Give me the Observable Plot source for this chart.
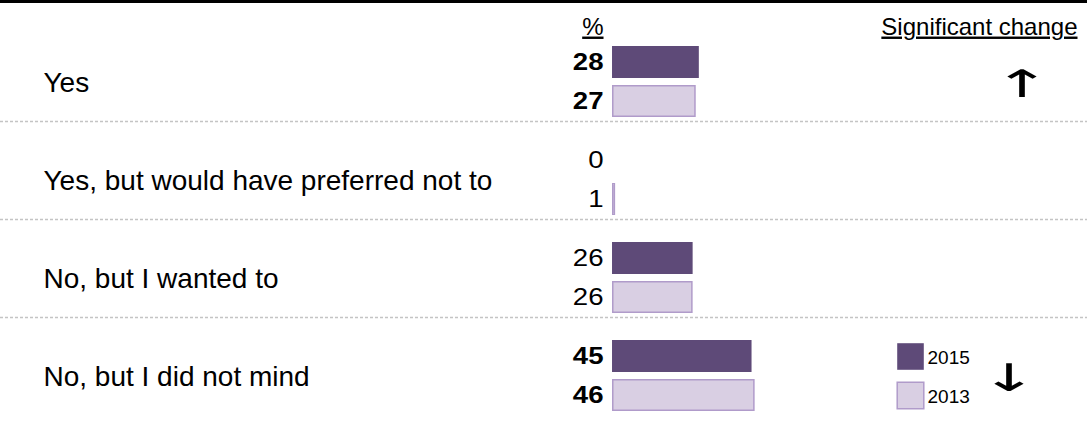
<!DOCTYPE html>
<html>
<head>
<meta charset="utf-8">
<script src="https://cdn.jsdelivr.net/npm/d3@7"></script>
<script src="https://cdn.jsdelivr.net/npm/@observablehq/plot@0.6"></script>
<style>
  body { margin: 0; background: #fff; }
  #chart { width: 1087px; border-top: 3px solid #000; font-family: "Liberation Sans", Arial, sans-serif; }
  #chart svg { display: block; }
</style>
</head>
<body>
<div id="chart"></div>
<script>
const categories = ["Yes", "Yes, but would have preferred not to", "No, but I wanted to", "No, but I did not mind"];
const years = ["2015", "2013"];
const values2015 = [28, 0, 26, 45];
const values2013 = [27, 1, 26, 46];
const significant = [true, false, false, true];
const changeArrows = ["↑", "", "", "↓"];
const headerPct = "%";
const headerChange = "Significant change";

const dark = "#5e4a78";
const lightFill = "#d9cfe3";
const lightStroke = "#b09bca";

const rows = categories.flatMap((cat, i) => [
  {cat, year: "2015", value: values2015[i], bold: significant[i]},
  {cat, year: "2013", value: values2013[i], bold: significant[i]}
]);
const arrows = categories.map((cat, i) => ({cat, arrow: changeArrows[i]})).filter(d => d.arrow);
const legendCat = categories[categories.length - 1];
const legend = years.map(y => ({cat: legendCat, year: y}));

const chart = Plot.plot({
  width: 1087,
  height: 427,
  marginTop: 29,
  marginBottom: 6,
  marginLeft: 0,
  marginRight: 0,
  style: {fontFamily: "'Liberation Sans', Arial, sans-serif", background: "#fff"},
  x: {axis: null, domain: [-197.4, 153.2]},
  y: {axis: null, domain: years, paddingInner: 0.18, paddingOuter: 0, insetTop: 13, insetBottom: 13},
  fy: {axis: null, domain: categories, padding: 0},
  marks: [
    Plot.tickY(categories.slice(0, 3), {fy: d => d, y: () => "2013", dy: 20, stroke: "#c4c4c4", strokeWidth: 1.5, strokeDasharray: "3,2"}),
    Plot.barX(rows.filter(d => d.year === "2015"), {fy: "cat", y: "year", x: "value", fill: dark}),
    Plot.barX(rows.filter(d => d.year === "2013" && d.value > 0), {fy: "cat", y: "year", x: "value", fill: lightFill, stroke: lightStroke, strokeWidth: 1.5, insetTop: 0.75, insetBottom: 0.75, insetRight: 0.75, insetLeft: 0.75}),
    Plot.text(rows.filter(d => d.bold), {fy: "cat", y: "year", x: () => 0, text: d => String(d.value), dx: -9, textAnchor: "end", fontSize: 24, fontWeight: "bold", fill: "#000"}),
    Plot.text(rows.filter(d => !d.bold), {fy: "cat", y: "year", x: () => 0, text: d => String(d.value), dx: -9, textAnchor: "end", fontSize: 24, fill: "#000"}),
    Plot.text(categories, {fy: d => d, text: d => d, frameAnchor: "left", dx: 43, dy: 2, textAnchor: "start", fontSize: 28, fill: "#000"}),
    Plot.text([headerPct], {fy: () => categories[0], x: () => 0, text: d => d, frameAnchor: "top", dx: -9, dy: -15, textAnchor: "end", fontSize: 24, fill: "#000"}),
    Plot.text([headerChange], {fy: () => categories[0], text: d => d, frameAnchor: "top-right", dx: -10, dy: -15, textAnchor: "end", fontSize: 24, fill: "#000"}),
    Plot.text(arrows.slice(0, 1), {fy: "cat", text: "arrow", frameAnchor: "right", dx: -65, dy: 3, textAnchor: "middle", fontSize: 38, fontFamily: "DejaVu Sans", fill: "#000"}),
    Plot.text(arrows.slice(1), {fy: "cat", text: "arrow", frameAnchor: "right", dx: -78, dy: 3, textAnchor: "middle", fontSize: 38, fontFamily: "DejaVu Sans", fill: "#000"}),
    Plot.dot(legend, {fy: "cat", y: "year", frameAnchor: "right", dx: -177, symbol: "square", r: 15, fill: d => d.year === "2015" ? dark : lightFill, stroke: d => d.year === "2015" ? "none" : lightStroke, strokeWidth: 1.5}),
    Plot.text(legend, {fy: "cat", y: "year", text: "year", frameAnchor: "right", dx: -160, dy: 1, textAnchor: "start", fontSize: 19, fill: "#000"})
  ]
});

// slight horizontal stretch of some texts, as in the reference
const valueTexts = new Set(rows.map(d => String(d.value)));
function stretchFor(s) {
  if (changeArrows.includes(s) && s) return 1.8;
  if (valueTexts.has(s)) return 1.15;
  return 1;
}
d3.select(chart).selectAll("text").each(function () {
  const el = d3.select(this);
  const s = this.textContent;
  if (s === headerPct || s === headerChange) el.style("text-decoration", "underline");
  const k = stretchFor(s);
  if (k === 1) return;
  let t = el.attr("transform") || "";
  const x = +el.attr("x") || 0, y = +el.attr("y") || 0;
  if (x || y) { t += ` translate(${x},${y})`; el.attr("x", null).attr("y", null); }
  el.attr("transform", `${t} scale(${k},1)`);
});
document.getElementById("chart").appendChild(chart);
</script>
</body>
</html>
